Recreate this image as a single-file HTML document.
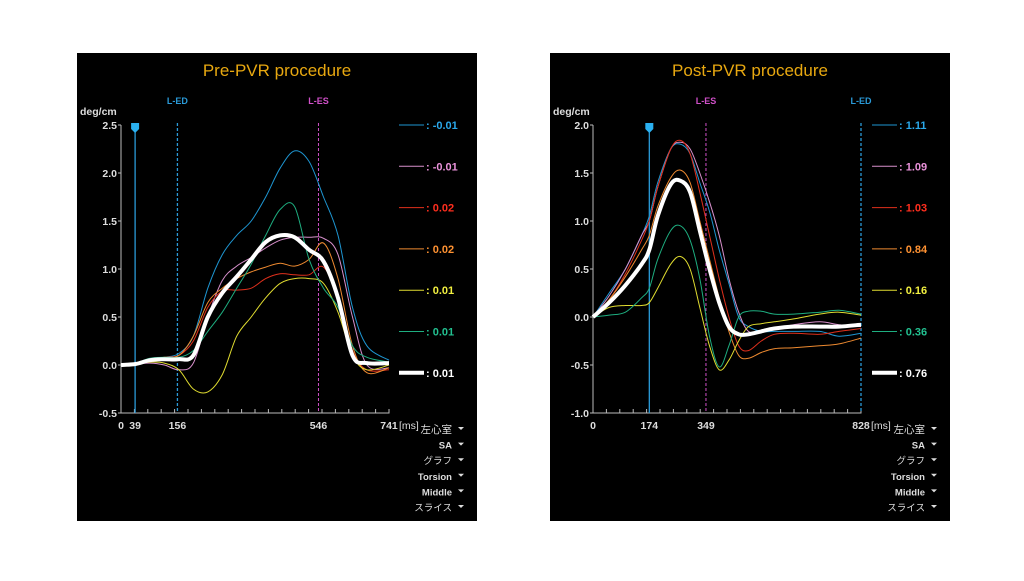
<!DOCTYPE html>
<html><head><meta charset="utf-8"><style>
html,body{margin:0;padding:0;background:#fff;}
body{width:1024px;height:576px;overflow:hidden;position:relative;font-family:"Liberation Sans","Noto Sans CJK JP",sans-serif;}
svg text{font-family:"Liberation Sans","Noto Sans CJK JP",sans-serif;}
</style></head><body>
<svg id="chart" width="1024" height="576" viewBox="0 0 1024 576" xmlns="http://www.w3.org/2000/svg"></svg>
<script>
// ---- Pre-PVR data ----
const preTimes = [0,40,80,120,160,200,240,280,320,360,400,440,480,520,560,600,640,680,741];
const preBlue    = [0,0.01,0.05,0.08,0.12,0.3,0.8,1.15,1.35,1.5,1.75,2.05,2.23,2.12,1.75,1.35,0.6,0.2,0.05];
const prePink    = [0,0.01,0.02,0.0,-0.05,0.02,0.5,0.88,1.03,1.12,1.22,1.3,1.33,1.33,1.32,1.15,0.5,0.0,-0.03];
const preRed     = [0,0.01,0.05,0.08,0.1,0.25,0.6,0.77,0.78,0.8,0.9,0.95,0.94,0.94,1.02,0.7,0.15,-0.05,-0.05];
const preOrange  = [0,0.01,0.06,0.08,0.1,0.3,0.65,0.8,0.9,0.97,1.02,1.06,1.03,1.1,1.27,0.9,0.2,-0.08,-0.03];
const preYellow  = [0,0.01,0.03,0.02,-0.05,-0.25,-0.28,-0.1,0.3,0.5,0.7,0.85,0.9,0.9,0.85,0.55,0.1,-0.05,0.0];
const preGreen   = [0,0.02,0.07,0.08,0.08,0.15,0.35,0.55,0.8,1.05,1.35,1.62,1.65,1.1,0.8,0.6,0.2,0.08,0.03];
const preWhite   = [0,0.01,0.05,0.06,0.06,0.1,0.5,0.75,0.92,1.1,1.28,1.35,1.33,1.2,1.08,0.7,0.1,0.02,0.02];
const preLegend  = ["-0.01","-0.01","0.02","0.02","0.01","0.01","0.01"];
const preYTicks  = [2.5,2.0,1.5,1.0,0.5,0.0,-0.5];
const preXLabels = [0,39,156,546,741];
// ---- Post-PVR data ----
const postTimes = [0,50,100,150,174,200,240,270,300,330,360,390,420,450,480,520,560,620,700,760,828];
const postBlue   = [0,0.25,0.5,0.85,1.05,1.4,1.75,1.8,1.7,1.4,1.1,0.7,0.35,0.0,-0.1,-0.15,-0.15,-0.15,-0.15,-0.2,-0.17];
const postPink   = [0,0.22,0.5,0.85,1.0,1.35,1.75,1.82,1.75,1.5,1.2,0.85,0.4,0.05,-0.15,-0.15,-0.12,-0.08,-0.05,-0.08,-0.1];
const postRed    = [0,0.18,0.45,0.8,1.0,1.35,1.75,1.84,1.7,1.3,0.85,0.4,0.0,-0.3,-0.35,-0.25,-0.18,-0.17,-0.18,-0.15,-0.12];
const postOrange = [0,0.18,0.42,0.7,0.85,1.15,1.45,1.53,1.4,1.0,0.6,0.2,-0.15,-0.4,-0.43,-0.37,-0.33,-0.32,-0.3,-0.28,-0.22];
const postYellow = [0,0.1,0.12,0.12,0.15,0.3,0.55,0.63,0.5,0.1,-0.3,-0.55,-0.45,-0.25,-0.1,-0.07,-0.05,-0.02,0.03,0.05,0.02];
const postGreen  = [0,0.02,0.05,0.2,0.3,0.6,0.9,0.95,0.8,0.4,-0.2,-0.52,-0.3,0.0,0.06,0.06,0.03,0.03,0.05,0.07,0.03];
const postWhite  = [0,0.15,0.33,0.55,0.7,1.05,1.38,1.42,1.3,0.9,0.5,0.15,-0.1,-0.18,-0.18,-0.15,-0.12,-0.1,-0.1,-0.1,-0.08];
const postLegend = ["1.11","1.09","1.03","0.84","0.16","0.36","0.76"];
const postYTicks = [2.0,1.5,1.0,0.5,0.0,-0.5,-1.0];
const postXLabels = [0,174,349,828];

const lineColors = ["#1e96d2","#d890cc","#e0301c","#ee8a30","#e0dc30","#1eae80","#ffffff"];
const textColors = ["#2aa8ea","#ea92da","#ff2e1e","#ff9232","#f2f040","#22c090","#ffffff"];
const seriesNames = ["blue","pink","red","orange","yellow","green","white"];
const NS="http://www.w3.org/2000/svg";
const svg=document.getElementById('chart');
function mk(tag,attrs,parent){const e=document.createElementNS(NS,tag);for(const k in attrs)e.setAttribute(k,attrs[k]);(parent||svg).appendChild(e);return e;}
function smooth(pts){let d="M"+pts[0][0].toFixed(1)+","+pts[0][1].toFixed(1);
 for(let i=0;i<pts.length-1;i++){const p0=pts[Math.max(0,i-1)],p1=pts[i],p2=pts[i+1],p3=pts[Math.min(pts.length-1,i+2)];
 const c1x=p1[0]+(p2[0]-p0[0])/6,c1y=p1[1]+(p2[1]-p0[1])/6,c2x=p2[0]-(p3[0]-p1[0])/6,c2y=p2[1]-(p3[1]-p1[1])/6;
 d+=" C"+c1x.toFixed(1)+","+c1y.toFixed(1)+" "+c2x.toFixed(1)+","+c2y.toFixed(1)+" "+p2[0].toFixed(1)+","+p2[1].toFixed(1);}
 return d;}

function panel(o){
 const g=mk('g',{});
 
 
 const bg=mk('rect',{x:o.bx,y:53,width:400,height:468,fill:'#000'},g);
 
 
 const t=mk('text',{x:o.bx+200,y:76,'text-anchor':'middle','font-size':17,fill:'#e8a810'},g);t.textContent=o.title;
 
 
 const x0=o.ax,x1=o.ax+268,yTop=125,yBot=413;
 const ymax=o.yTicks[0],ymin=o.yTicks[o.yTicks.length-1];
 const X=v=>x0+v/o.tmax*(x1-x0);
 const Y=v=>yTop+(ymax-v)/(ymax-ymin)*(yBot-yTop);
 const u=mk('text',{x:o.bx+3,y:115,'font-size':10.5,fill:'#ddd','font-weight':'600'},g);u.textContent='deg/cm';
 
 
 const ax=mk('path',{d:`M${x0},${yTop} V${yBot} H${x1} V${yBot-4}`,stroke:'#bbb','stroke-width':1,fill:'none'},g);
 
 
 o.yTicks.forEach(v=>{const y=Y(v);
  mk('line',{x1:x0-3,x2:x0,y1:y,y2:y,stroke:'#bbb'},g);
  const tt=mk('text',{x:x0-4,y:y+4,'text-anchor':'end','font-size':10.5,fill:'#ddd','font-weight':'600'},g);tt.textContent=v.toFixed(1);
  
  });
 for(let i=1;i<20;i++){const x=x0+i*(x1-x0)/20;mk('line',{x1:x,x2:x,y1:yBot,y2:yBot-4,stroke:'#bbb'},g);}
 o.xLabels.forEach(v=>{const tt=mk('text',{x:X(v),y:429,'text-anchor':'middle','font-size':10.5,fill:'#ddd','font-weight':'600'},g);tt.textContent=v;
  
  });
 const ms=mk('text',{x:x1+10,y:429,'font-size':10.5,fill:'#ddd'},g);ms.textContent='[ms]';
 const ed=mk('line',{x1:X(o.ed),x2:X(o.ed),y1:yTop-2,y2:yBot,stroke:'#2a9ad8','stroke-width':1.3,'stroke-dasharray':'3,2'},g);
 
 
 const edt=mk('text',{x:X(o.ed),y:104,'text-anchor':'middle','font-size':9,'font-weight':'bold',fill:'#2a9ad8'},g);edt.textContent='L-ED';
 const es=mk('line',{x1:X(o.es),x2:X(o.es),y1:yTop-2,y2:yBot,stroke:'#d050c8','stroke-width':1,'stroke-dasharray':'3,2'},g);
 
 
 const est=mk('text',{x:X(o.es),y:104,'text-anchor':'middle','font-size':9,'font-weight':'bold',fill:'#d050c8'},g);est.textContent='L-ES';
 const cur=mk('line',{x1:X(o.cur),x2:X(o.cur),y1:yTop,y2:yBot,stroke:'#2a9ad8','stroke-width':1.3},g);
 
 
 const cm=mk('path',{d:`M${X(o.cur)-4},${yTop-2} h8 v6 l-4,4 l-4,-4 z`,fill:'#2ab0f0'},g);
 
 
 o.series.forEach((s,i)=>{
  const pts=o.times.map((tm,k)=>[X(tm),Y(s[k])]);
  const p=mk('path',{d:smooth(pts),fill:'none',stroke:lineColors[i],'stroke-width':i===6?4:1,'stroke-linejoin':'round'},g);
  
  
  const ly=125+i*41.3;
  const ll=mk('line',{x1:o.bx+322,x2:o.bx+347,y1:ly,y2:ly,stroke:lineColors[i],'stroke-width':i===6?4:1},g);
  
  
  const lt=mk('text',{x:o.bx+349,y:ly+4,'font-size':11,'font-weight':'bold',fill:textColors[i]},g);lt.textContent=': '+o.legend[i];
  
  
 });
 ["左心室","SA","グラフ","Torsion","Middle","スライス"].forEach((s,i)=>{
  const y=433+i*15.6;
  const d=mk('text',{x:o.bx+375,y:y,'text-anchor':'end','font-size':i===0?10.5:9.5,fill:'#ddd','font-weight':(i===1||i===3||i===4)?'bold':'normal'},g);d.textContent=s;
  
  
  mk('path',{d:`M${o.bx+381},${y-6} h6 l-3,3 z`,fill:'#ddd'},g);
 });
}
panel({name:'pre-pvr-panel',bx:77,ax:121,title:'Pre-PVR procedure',tmax:741,yTicks:preYTicks,xLabels:preXLabels,ed:156,es:546,cur:39,times:preTimes,
 series:[preBlue,prePink,preRed,preOrange,preYellow,preGreen,preWhite],legend:preLegend});
panel({name:'post-pvr-panel',bx:550,ax:593,title:'Post-PVR procedure',tmax:828,yTicks:postYTicks,xLabels:postXLabels,ed:828,es:349,cur:174,times:postTimes,
 series:[postBlue,postPink,postRed,postOrange,postYellow,postGreen,postWhite],legend:postLegend});
</script>
</body></html>
